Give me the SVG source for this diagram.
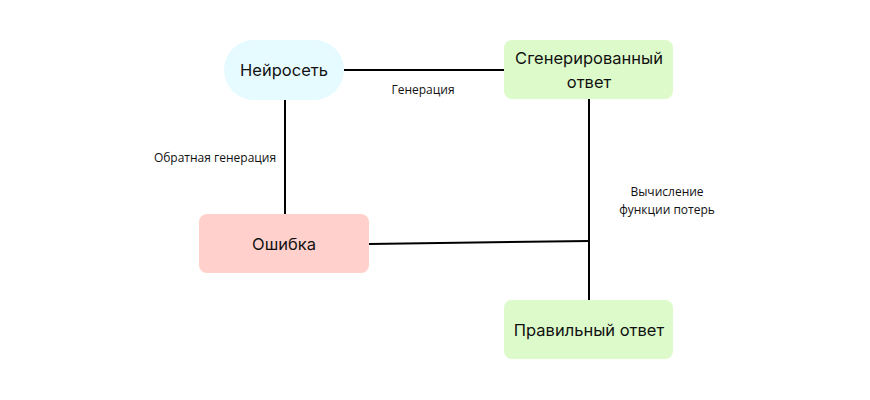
<svg xmlns="http://www.w3.org/2000/svg" width="870" height="400" viewBox="0 0 870 400">
<style>
.node{font-family:Inter,"Noto Sans",sans-serif;font-size:16.5px;fill:#111;text-anchor:middle}
.lbl{font-family:"Open Sans","Noto Sans",sans-serif;font-size:12px;fill:#111;text-anchor:middle}
.ln{stroke:#000;stroke-width:2;fill:none}
</style>
<rect width="870" height="400" fill="#fff"/>
<g id="connectors">
<line class="ln" x1="344" y1="70" x2="504" y2="70"/>
<line class="ln" x1="285" y1="100" x2="285" y2="214"/>
<line class="ln" x1="589" y1="99" x2="589" y2="300"/>
<line class="ln" x1="369" y1="244" x2="589" y2="241"/>
<text class="lbl" x="423" y="94">Генерация</text>
<text class="lbl" x="215" y="162">Обратная генерация</text>
<text class="lbl" x="667" y="196">Вычисление</text>
<text class="lbl" x="667" y="214">функции потерь</text>
</g>
<g id="neuro">
<rect x="224" y="40" width="120" height="60" rx="30" fill="#e6fbff"/>
<text class="node" x="284" y="76">Нейросеть</text>
</g>
<g id="generated">
<rect x="504" y="40" width="169" height="59" rx="8" fill="#ddfbca"/>
<text class="node" x="589" y="64">Сгенерированный</text>
<text class="node" x="589" y="88">ответ</text>
</g>
<g id="error">
<rect x="199" y="214" width="170" height="59" rx="8" fill="#ffd0cc"/>
<text class="node" x="284" y="250">Ошибка</text>
</g>
<g id="correct">
<rect x="504" y="300" width="169" height="59" rx="8" fill="#ddfbca"/>
<text class="node" x="589" y="336">Правильный ответ</text>
</g>
</svg>
